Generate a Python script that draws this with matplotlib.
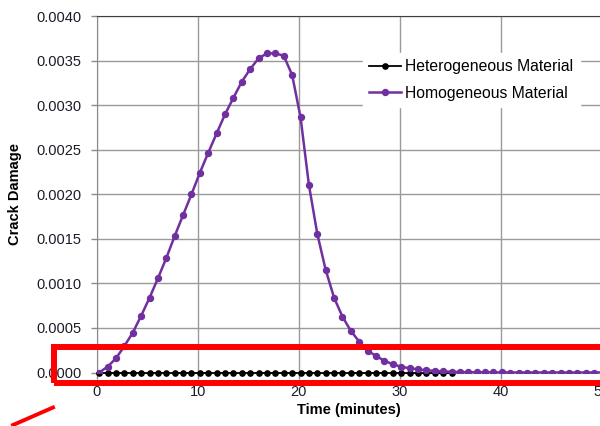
import matplotlib
matplotlib.use("Agg")
import matplotlib.pyplot as plt
from matplotlib.patches import Rectangle
from matplotlib.lines import Line2D

plt.rcParams['font.family'] = ['Liberation Sans', 'DejaVu Sans']

# time samples (minutes)
time_min = [0.25, 1.08, 1.91, 2.74, 3.57, 4.40, 5.23, 6.06, 6.89, 7.72,
            8.55, 9.38, 10.21, 11.04, 11.87, 12.70, 13.53, 14.36, 15.19, 16.02,
            16.85, 17.68, 18.51, 19.34, 20.17, 21.00, 21.83, 22.66, 23.49, 24.32,
            25.15, 25.98, 26.81, 27.64, 28.47, 29.30, 30.13, 30.96, 31.79, 32.62,
            33.45, 34.28, 35.11, 35.94, 36.77, 37.60, 38.43, 39.26, 40.09, 40.92,
            41.75, 42.58, 43.41, 44.24, 45.07, 45.90, 46.73, 47.56, 48.39, 49.22,
            50.05, 50.88]

homogeneous = [0.0, 0.000065, 0.000159, 0.000297, 0.000447, 0.000637, 0.000839, 0.001057,
               0.001285, 0.001532, 0.001767, 0.002000, 0.002242, 0.002466, 0.002684,
               0.002897, 0.003083, 0.003263, 0.003405, 0.003525, 0.003581, 0.003581,
               0.003554, 0.003338, 0.002863, 0.002104, 0.001554, 0.001150, 0.000839,
               0.000626, 0.000466, 0.000346, 0.000245, 0.000185, 0.000132, 0.000092,
               0.000065, 0.000047, 0.000036, 0.000025, 0.000018, 0.000012, 0.000008,
               0.000005, 0.000003, 0.000002, 0.000001, 0.000001, 0.000001, 0.0,
               0.0, 0.0, 0.0, 0.0, 0.0, 0.0, 0.0, 0.0, 0.0, 0.0, 0.0, 0.0]

# heterogeneous series stays at zero, recorded up to ~35 min
n_het = 43
heterogeneous = [0.0] * n_het

y_ticks = [0.0, 0.0005, 0.0010, 0.0015, 0.0020, 0.0025, 0.0030, 0.0035, 0.0040]
x_ticks = [0, 10, 20, 30, 40, 50]

fig = plt.figure(figsize=(6, 4.26), dpi=100)
ax = fig.add_axes([96.7/600, 1-372.5/426, (602-96.7)/600, (372.5-16)/426])

ax.plot(time_min[:n_het], heterogeneous, color='black', lw=1.3, marker='o', ms=3.8,
        label='Heterogeneous Material', clip_on=False, zorder=3)
ax.plot(time_min, homogeneous, color='#7030A0', lw=1.8, marker='o', ms=4.3,
        label='Homogeneous Material', zorder=4)

ax.set_xlim(0, 50)
ax.set_ylim(0, 0.004)
ax.set_xticks(x_ticks)
ax.set_yticks(y_ticks)
ax.set_yticklabels([f'{v:.4f}' for v in y_ticks])
ax.grid(True, color='#9a9a9a', lw=1.0)
ax.set_axisbelow(True)
for s in ['left', 'bottom', 'right']:
    ax.spines[s].set_color('#8a8a8a')
ax.spines['top'].set_color('#404040')
ax.tick_params(axis='both', colors='#8a8a8a', labelcolor='#1c1c2a', labelsize=10.5,
               length=4, width=1)
ax.tick_params(axis='y', pad=7)
ax.tick_params(axis='x', pad=5)

ax.set_ylabel('Crack Damage', fontsize=10.5, fontweight='bold', labelpad=10)
ax.set_xlabel('Time (minutes)', fontsize=10.5, fontweight='bold', labelpad=3)

leg = ax.legend(loc='upper left', bbox_to_anchor=(363/600, 1-53/426),
                bbox_transform=fig.transFigure, fontsize=11.3, frameon=True,
                fancybox=False, borderaxespad=0, borderpad=0.4,
                handlelength=2.0, handletextpad=0.3, labelspacing=0.72)
leg.get_frame().set_facecolor('white')
leg.get_frame().set_edgecolor('white')
leg.get_frame().set_alpha(1)

# red highlight annotation in figure pixels
W, H = 600, 426
rect = Rectangle((54/W, 1-383/H), (640-54)/W, (383-347)/H, transform=fig.transFigure,
                 fill=False, edgecolor='#ff0000', lw=4.3, zorder=10, clip_on=False)
fig.add_artist(rect)
fig.add_artist(Line2D([13/W, 53/W], [1-425/H, 1-407.5/H], transform=fig.transFigure,
                      color='#ff0000', lw=2.8, zorder=10))

fig.savefig('out.png', dpi=100)
